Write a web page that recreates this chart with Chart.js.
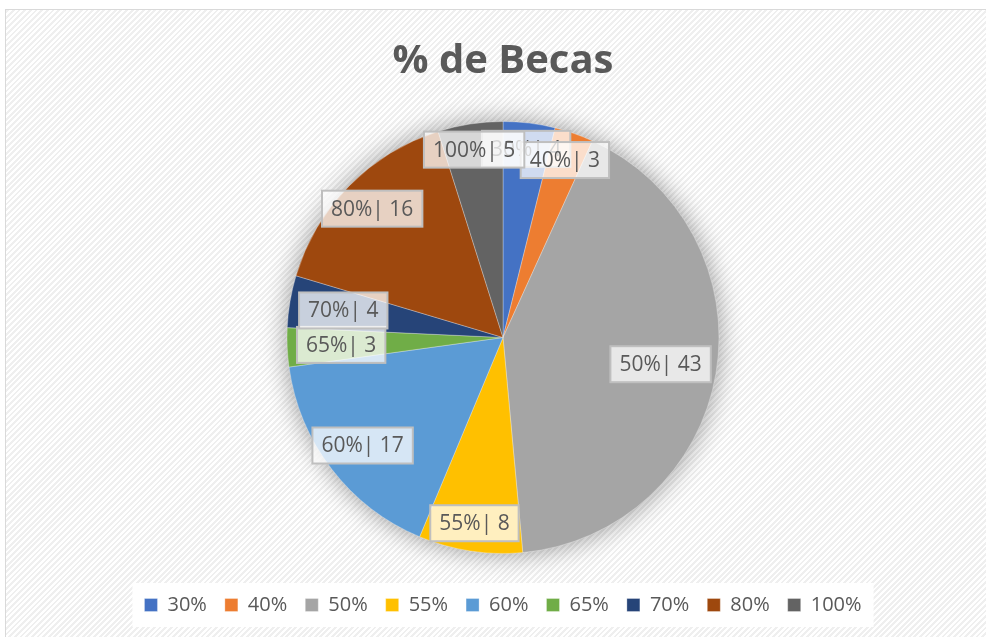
<!DOCTYPE html>
<html>
<head>
<meta charset="utf-8">
<script src="https://cdn.jsdelivr.net/npm/chart.js@4.4.0/dist/chart.umd.min.js"></script>
<style>
  html,body{margin:0;padding:0;background:#fff;width:986px;height:637px;overflow:hidden;}
  #frame{position:absolute;left:5px;top:9px;width:990px;height:640px;border:1px solid #d9d9d9;
    background:repeating-linear-gradient(-45deg,#ffffff 0px,#ffffff 2px,#efefef 2px,#efefef 4px);}
  #c{position:absolute;left:0;top:0;}
</style>
</head>
<body>
<div id="frame"></div>
<canvas id="c" width="986" height="637"></canvas>
<script>
// data
const categories=['30%','40%','50%','55%','60%','65%','70%','80%','100%'];
const becas=[4,3,43,8,17,3,4,16,5];
const sliceColors=['#4472C4','#ED7D31','#A5A5A5','#FFC000','#5B9BD5','#70AD47','#264478','#9E480E','#636363'];
// where each data label sits, as a fraction of the radius along the slice middle
const labelDist=[0.88,0.87,0.74,0.87,0.82,0.75,0.75,0.85,0.88];

const FONT='"Open Sans", "Noto Sans", sans-serif';
const TXT='#595959';

const pieShadow={id:'pieShadow',
  beforeDatasetsDraw(chart){
    const a=chart.getDatasetMeta(0).data[0];if(!a)return;
    const ctx=chart.ctx;ctx.save();
    ctx.shadowColor='rgba(0,0,0,0.4)';ctx.shadowBlur=26;ctx.shadowOffsetX=0;ctx.shadowOffsetY=0;
    ctx.fillStyle='#bbb';ctx.beginPath();ctx.arc(a.x,a.y,a.outerRadius,0,Math.PI*2);ctx.fill();
    ctx.restore();
  }};

const legendBg={id:'legendBg',
  beforeDraw(chart){
    const lg=chart.legend;if(!lg||!lg.legendHitBoxes.length)return;
    const hb=lg.legendHitBoxes;let l=1e9,r=-1e9,t=1e9,b=-1e9;
    hb.forEach(h=>{l=Math.min(l,h.left);r=Math.max(r,h.left+h.width);t=Math.min(t,h.top);b=Math.max(b,h.top+h.height);});
    const ctx=chart.ctx;ctx.save();ctx.fillStyle='#fff';
    ctx.fillRect(l-12,t-12,(r-l)+24,(b-t)+24);ctx.restore();
  }};

const dataLabels={id:'dataLabels',
  afterDatasetsDraw(chart){
    const ctx=chart.ctx,meta=chart.getDatasetMeta(0);
    ctx.save();ctx.font='21px '+FONT;ctx.textAlign='center';ctx.textBaseline='middle';
    meta.data.forEach((arc,i)=>{
      const mid=(arc.startAngle+arc.endAngle)/2,r=arc.outerRadius*labelDist[i];
      const x=arc.x+Math.cos(mid)*r,y=arc.y+Math.sin(mid)*r;
      const txt=categories[i]+'| '+becas[i];
      const w=ctx.measureText(txt).width+18,h=36;
      ctx.fillStyle='rgba(255,255,255,0.75)';ctx.strokeStyle='#bfbfbf';ctx.lineWidth=2;
      ctx.fillRect(x-w/2,y-h/2,w,h);ctx.strokeRect(x-w/2,y-h/2,w,h);
      ctx.fillStyle=TXT;ctx.fillText(txt,x,y+1);
    });
    ctx.restore();
  }};

new Chart(document.getElementById('c'),{
  type:'pie',
  data:{labels:categories,datasets:[{data:becas,backgroundColor:sliceColors,borderColor:'rgba(255,255,255,0.6)',borderWidth:0.5,radius:216}]},
  options:{
    responsive:false,animation:false,
    layout:{padding:{left:20,right:0,top:0,bottom:12}},
    plugins:{
      title:{display:true,text:'% de Becas',color:TXT,font:{family:FONT,size:40,weight:'bold'},padding:{top:38,bottom:12}},
      legend:{position:'bottom',labels:{color:TXT,font:{family:FONT,size:20},boxWidth:13,boxHeight:13,padding:18}},
      tooltip:{enabled:false}
    }
  },
  plugins:[pieShadow,legendBg,dataLabels]
});
</script>
</body>
</html>
